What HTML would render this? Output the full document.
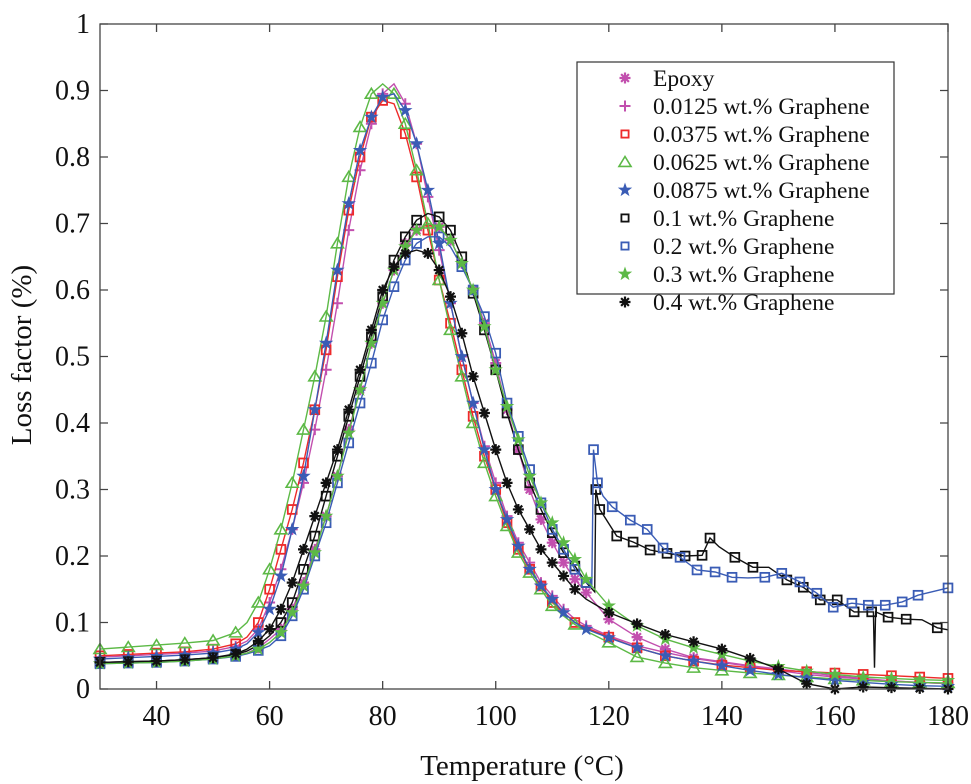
<!DOCTYPE html>
<html><head><meta charset="utf-8"><style>
html,body{margin:0;padding:0;background:#fff;}
svg{display:block;font-family:"Liberation Serif",serif;}
</style></head><body>
<svg id="chart" width="971" height="784" viewBox="0 0 971 784" xmlns="http://www.w3.org/2000/svg">
<g id="grid-layer"></g>
<g id="series-layer"></g>
<g id="axes-layer"></g>
<g id="legend-layer"></g>
</svg>
<script>
const T = [30,35,40,45,50,54,56,58,60,62,64,66,68,70,72,74,76,78,80,82,84,86,88,90,92,94,96,98,100,102,104,106,108,110,112,114,116,120,125,130,135,140,145,150,155,160,165,170,175,180];
const epoxy = [0.040,0.041,0.042,0.044,0.046,0.05,0.054,0.062,0.075,0.09,0.12,0.16,0.21,0.26,0.32,0.39,0.45,0.52,0.58,0.63,0.67,0.69,0.70,0.695,0.675,0.64,0.60,0.55,0.49,0.42,0.36,0.30,0.255,0.22,0.19,0.165,0.145,0.105,0.078,0.06,0.047,0.041,0.035,0.03,0.025,0.02,0.016,0.012,0.01,0.008];
const g0125 = [0.048,0.050,0.052,0.054,0.057,0.064,0.072,0.09,0.13,0.18,0.24,0.31,0.39,0.48,0.58,0.69,0.78,0.85,0.895,0.91,0.88,0.82,0.74,0.66,0.58,0.50,0.43,0.365,0.31,0.26,0.22,0.19,0.16,0.14,0.12,0.105,0.095,0.08,0.065,0.055,0.046,0.04,0.034,0.028,0.022,0.018,0.015,0.012,0.01,0.008];
const g0375 = [0.050,0.052,0.054,0.056,0.060,0.068,0.078,0.10,0.15,0.21,0.27,0.34,0.42,0.51,0.62,0.72,0.80,0.86,0.885,0.88,0.835,0.77,0.69,0.615,0.55,0.48,0.41,0.35,0.30,0.25,0.21,0.18,0.155,0.13,0.115,0.10,0.092,0.078,0.062,0.05,0.042,0.036,0.032,0.028,0.026,0.024,0.022,0.02,0.018,0.016];
const g0625 = [0.060,0.063,0.066,0.069,0.073,0.085,0.10,0.13,0.18,0.24,0.31,0.39,0.47,0.56,0.67,0.77,0.845,0.895,0.91,0.895,0.85,0.78,0.70,0.615,0.54,0.47,0.40,0.34,0.29,0.245,0.205,0.175,0.15,0.125,0.11,0.097,0.087,0.07,0.048,0.039,0.032,0.028,0.024,0.021,0.018,0.015,0.013,0.011,0.01,0.009];
const g0875 = [0.045,0.047,0.049,0.051,0.054,0.06,0.068,0.085,0.12,0.17,0.24,0.32,0.42,0.52,0.63,0.73,0.81,0.86,0.89,0.895,0.87,0.82,0.75,0.67,0.58,0.50,0.43,0.36,0.30,0.255,0.215,0.18,0.155,0.135,0.115,0.10,0.09,0.077,0.062,0.05,0.042,0.035,0.028,0.022,0.017,0.013,0.01,0.007,0.005,0.004];
const g1 = [0.040,0.041,0.042,0.044,0.047,0.052,0.057,0.066,0.08,0.10,0.13,0.18,0.23,0.29,0.35,0.41,0.47,0.53,0.59,0.645,0.68,0.705,0.715,0.71,0.69,0.65,0.595,0.54,0.48,0.415,0.36,0.31,0.27,0.235,0.205,0.185,0.16];
const tail1T = [117.5,117.7,118.4,121.4,124.3,127.3,130.3,133.5,136.5,137.9,139.5,142.3,145.5,148.3,151.5,154.4,157.4,160.4,163.4,166.5,166.8,167.0,167.2,169.4,172.6,175.4,178.1,180];
const tail1 = [0.146,0.30,0.27,0.23,0.221,0.209,0.204,0.2,0.201,0.227,0.214,0.198,0.183,0.183,0.164,0.153,0.134,0.134,0.116,0.116,0.116,0.032,0.116,0.108,0.105,0.104,0.092,0.089];
const g2 = [0.038,0.039,0.04,0.042,0.045,0.049,0.053,0.058,0.065,0.08,0.11,0.15,0.20,0.25,0.31,0.37,0.43,0.49,0.555,0.605,0.645,0.67,0.68,0.68,0.665,0.635,0.60,0.56,0.505,0.43,0.38,0.33,0.28,0.24,0.21,0.18,0.16];
const tail2T = [117,117.3,117.4,118,119,120.6,123.8,126.8,129.6,132.6,135.6,138.8,141.8,144.6,147.6,150.6,153.8,156.8,159.7,163,165.9,168.9,171.9,174.7,180];
const tail2 = [0.155,0.36,0.352,0.31,0.29,0.274,0.254,0.24,0.212,0.198,0.179,0.176,0.168,0.167,0.168,0.174,0.161,0.144,0.123,0.129,0.126,0.126,0.131,0.141,0.152];
const g3 = [0.038,0.039,0.04,0.042,0.045,0.05,0.054,0.06,0.07,0.085,0.115,0.155,0.205,0.26,0.32,0.385,0.45,0.52,0.58,0.63,0.665,0.69,0.70,0.695,0.675,0.64,0.60,0.545,0.48,0.425,0.375,0.32,0.28,0.25,0.22,0.195,0.165,0.125,0.095,0.075,0.062,0.052,0.042,0.034,0.027,0.022,0.018,0.016,0.014,0.013];
const g4 = [0.040,0.041,0.042,0.044,0.047,0.053,0.06,0.072,0.09,0.12,0.16,0.21,0.26,0.31,0.36,0.42,0.48,0.54,0.60,0.635,0.655,0.66,0.655,0.63,0.59,0.535,0.47,0.415,0.36,0.31,0.27,0.24,0.21,0.19,0.17,0.15,0.135,0.115,0.098,0.082,0.071,0.06,0.046,0.03,0.008,0.0,0.003,0.002,0.001,0.0];
const xTicks = [40,60,80,100,120,140,160,180];
const yTicks = [0,0.1,0.2,0.3,0.4,0.5,0.6,0.7,0.8,0.9,1];
const yTickLabels = ["0","0.1","0.2","0.3","0.4","0.5","0.6","0.7","0.8","0.9","1"];
const legendLabels = ["Epoxy","0.0125 wt.% Graphene","0.0375 wt.% Graphene","0.0625 wt.% Graphene","0.0875 wt.% Graphene","0.1 wt.% Graphene","0.2 wt.% Graphene","0.3 wt.% Graphene","0.4 wt.% Graphene"];

const NS = "http://www.w3.org/2000/svg";
const L = 100, R = 948, TOP = 24, BOT = 689;
const X0 = 30, X1 = 180;
function xs(t){ return L + (t - X0) / (X1 - X0) * (R - L); }
function ys(v){ return BOT - v * (BOT - TOP); }
function mk(tag, attrs, parent){ const e = document.createElementNS(NS, tag); for (const k in attrs) e.setAttribute(k, attrs[k]); parent.appendChild(e); return e; }

const MAG="#c24fae", RED="#ee2a2a", GRN="#5cb946", BLU="#3a5cb5", BLK="#111";
const series = [
 {name:"epoxy", color:MAG, marker:"ast", segs:[[T,epoxy]]},
 {name:"0.0125", color:MAG, marker:"plus", segs:[[T,g0125]]},
 {name:"0.0375", color:RED, marker:"sq", segs:[[T,g0375]]},
 {name:"0.0625", color:GRN, marker:"tri", segs:[[T,g0625]]},
 {name:"0.0875", color:BLU, marker:"star", segs:[[T,g0875]]},
 {name:"0.1", color:BLK, marker:"sq", segs:[[T.slice(0,g1.length),g1],[tail1T,tail1]]},
 {name:"0.2", color:BLU, marker:"sq", segs:[[T.slice(0,g2.length),g2],[tail2T,tail2]]},
 {name:"0.3", color:GRN, marker:"star", segs:[[T,g3]]},
 {name:"0.4", color:BLK, marker:"ast", segs:[[T,g4]]}
];

function drawMarker(g, type, x, y, c, s){
  let e;
  if (type === "sq") { e = mk("rect", {x:x-s*0.8, y:y-s*0.8, width:s*1.6, height:s*1.6, fill:"none", stroke:c, "stroke-width":1.8}, g); }
  else if (type === "tri") { e = mk("polygon", {points:`${x},${y-s} ${x-s*1.1},${y+s*0.8} ${x+s*1.1},${y+s*0.8}`, fill:"none", stroke:c, "stroke-width":1.6}, g); }
  else if (type === "plus") { e = mk("path", {d:`M${x-s},${y}H${x+s}M${x},${y-s}V${y+s}`, stroke:c, "stroke-width":2, fill:"none"}, g); }
  else if (type === "ast") { let d=""; for (let i=0;i<4;i++){ const a=i*Math.PI/4; d+=`M${x-s*Math.cos(a)},${y-s*Math.sin(a)}L${x+s*Math.cos(a)},${y+s*Math.sin(a)}`; } e = mk("path", {d:d, stroke:c, "stroke-width":2.2, fill:"none"}, g); }
  else { let p=[]; for (let i=0;i<10;i++){ const r=i%2?s*0.45:s*1.15; const a=-Math.PI/2+i*Math.PI/5; p.push((x+r*Math.cos(a)).toFixed(1)+","+(y+r*Math.sin(a)).toFixed(1)); } e = mk("polygon", {points:p.join(" "), fill:c, stroke:c, "stroke-width":0.8}, g); }
  return e;
}

const sl = document.getElementById("series-layer");
series.forEach(s => {
  const g = mk("g", {}, sl);
  
  
  let pts = [];
  s.segs.forEach(seg => { for (let i=0;i<seg[0].length;i++) pts.push([xs(seg[0][i]), ys(seg[1][i])]); });
  const line = mk("polyline", {points: pts.map(p=>p[0].toFixed(1)+","+p[1].toFixed(1)).join(" "), fill:"none", stroke:s.color, "stroke-width":1.4}, g);
  
  
  let last = null;
  pts.forEach((p, i) => {
    if (last && Math.hypot(p[0]-last[0], p[1]-last[1]) < 16) return;
    const prev = pts[i-1], next = pts[i+1];
    const isSpike = prev && next && Math.abs(prev[1]-next[1]) < 10 && Math.abs(p[1]-prev[1]) > 25;
    if (isSpike) return;
    const m = drawMarker(g, s.marker, p[0], p[1], s.color, 5.5);
    
    
    last = p;
  });
});

const ax = document.getElementById("axes-layer");
const frame = mk("rect", {x:L, y:TOP, width:R-L, height:BOT-TOP, fill:"none", stroke:"#444", "stroke-width":1.3}, ax);


xTicks.forEach(t => {
  const x = xs(t);
  mk("path", {d:`M${x},${BOT}V${BOT-8}M${x},${TOP}V${TOP+8}`, stroke:"#444", "stroke-width":1.3}, ax);
  const tx = mk("text", {x:x, y:725, "text-anchor":"middle", "font-size":28, fill:"#111"}, ax);
  tx.textContent = t;
  
  
});
yTicks.forEach((v,i) => {
  const y = ys(v);
  mk("path", {d:`M${L},${y}H${L+8}M${R},${y}H${R-8}`, stroke:"#444", "stroke-width":1.3}, ax);
  const tx = mk("text", {x:90, y:y+9, "text-anchor":"end", "font-size":28, fill:"#111"}, ax);
  tx.textContent = yTickLabels[i];
  
  
});
const xt = mk("text", {x:522, y:775, "text-anchor":"middle", "font-size":29, fill:"#111"}, ax);
xt.textContent = "Temperature (°C)";


const yt = mk("text", {x:0, y:0, "text-anchor":"middle", "font-size":29, fill:"#111", transform:"translate(31,355) rotate(-90)"}, ax);
yt.textContent = "Loss factor (%)";



const lg = document.getElementById("legend-layer");


mk("rect", {x:577, y:62, width:317, height:232, fill:"#fff", stroke:"#333", "stroke-width":1.2}, lg);
series.forEach((s,i) => {
  const y = 78 + i*28;
  const eg = mk("g", {}, lg);
  
  
  drawMarker(eg, s.marker, 625, y, s.color, s.marker==="sq"?4.5:5.5);
  const tx = mk("text", {x:653, y:y+8, "font-size":23.5, fill:"#111"}, eg);
  tx.textContent = legendLabels[i];
});
</script>
</body></html>
